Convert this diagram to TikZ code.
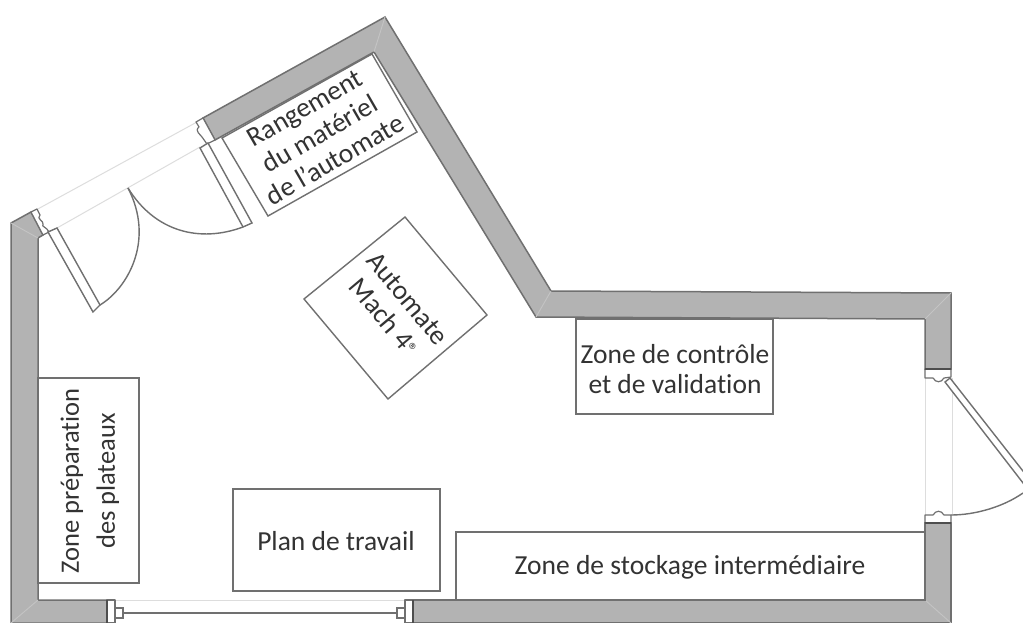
\documentclass[tikz,border=0pt]{standalone}
\usepackage{fontspec}
\setmainfont{Carlito}[Ligatures=NoCommon]
\usepackage{xcolor}
\definecolor{wallfill}{HTML}{B3B3B3}
\definecolor{wallline}{HTML}{707070}
\definecolor{ink}{HTML}{333333}
\definecolor{pale}{HTML}{DDDDDD}
\definecolor{miter}{HTML}{C4C4C4}
\tikzset{
  wall/.style={draw=wallline, fill=wallfill, line width=1.5pt, line join=miter},
  stop/.style={draw=wallline!70!black, line width=2.4pt},
  jamb/.style={draw=wallline, fill=white, line width=1.2pt, line join=round},
  leaf/.style={draw=wallline, fill=white, line width=1.4pt},
  swing/.style={draw=wallline, line width=1.4pt},
  sill/.style={draw=pale, line width=1pt},
  seam/.style={draw=miter, line width=0.9pt},
  zonebox/.style={draw=wallline, fill=white, line width=1.4pt},
  lab/.style={text=ink, font=\fontsize{27.5}{30}\selectfont, align=center, inner sep=0pt},
}
\begin{document}
\begin{tikzpicture}[x=1pt,y=-1pt]
  \useasboundingbox[fill=white] (0,0) rectangle (1023,623);
  % walls
  \draw[wall] (107,623) -- (11,623) -- (11,223) -- (31,212) -- (43,235) -- (38,238)
    -- (38,600) -- (107,600) -- cycle;
  \draw[wall] (203,118) -- (385,17) -- (551,291) -- (951,293) -- (951,369)
    -- (925,369) -- (925,319) -- (536,317) -- (374,52) -- (215,140) -- cycle;
  \draw[wall] (925,523) -- (951,523) -- (951,623) -- (413,623) -- (413,600)
    -- (925,600) -- cycle;
  % corner seams
  \draw[seam] (11,223) -- (38,238);
  \draw[seam] (11,623) -- (38,600);
  \draw[seam] (385,17) -- (374,52);
  \draw[seam] (551,291) -- (536,317);
  \draw[seam] (951,293) -- (925,319);
  \draw[seam] (951,623) -- (925,600);
  % door openings
  \draw[sill] (36,210) -- (197,122);
  \draw[sill] (57,228) -- (200,147);
  \draw[sill] (925,378) -- (925,515);
  \draw[sill] (952,378) -- (952,515);
  \draw[sill] (115,600) -- (405,600);
  % jambs
  \draw[jamb] (31,212) -- (37,209) -- (40,215) .. controls (36,219) and (44,221) .. (43,224)
    .. controls (41,227) and (47,227) .. (49,232) -- (43,235) -- cycle;
  \draw[jamb] (203,118) -- (196,122) -- (199,127) .. controls (194,131) and (201,135) .. (202,137)
    -- (207,144) -- (215,140) -- cycle;
  \draw[jamb] (925,369) -- (951,369) -- (951,377) -- (944,378)
    .. controls (941,383) and (936,383) .. (933,378) -- (925,378) -- cycle;
  \draw[jamb] (925,523) -- (951,523) -- (951,515) -- (944,515)
    .. controls (941,510) and (936,510) .. (933,515) -- (925,515) -- cycle;
  \draw[jamb] (107,600) -- (115,600) -- (115,623) -- (107,623) -- cycle;
  \draw[jamb] (405,600) -- (413,600) -- (413,623) -- (405,623) -- cycle;
  \draw[stop] (925,369) -- (951,369);
  \draw[stop] (925,523) -- (951,523);
  \draw[stop] (107,600) -- (107,623);
  \draw[stop] (413,600) -- (413,623);
  % door leaves
  \draw[leaf] (48,232) -- (57,228) -- (100,305) -- (93,312) -- cycle;
  \draw[leaf] (200,148) -- (208,143) -- (252,223) -- (243,227) -- cycle;
  \draw[leaf] (945,382) -- (950,378) -- (1030,480) -- (1030,492) -- cycle;
  \draw[swing] (100,305) .. controls (128,288) and (155,240) .. (128,188);
  \draw[swing] (243,227) .. controls (200,243) and (155,232) .. (128,188);
  \draw[swing] (951,515) .. controls (975,515) and (1003,507) .. (1023,493);
  % sliding door
  \draw[swing] (115,608) -- (123,608) -- (123,618) -- (115,618);
  \draw[swing] (405,608) -- (397,608) -- (397,618) -- (405,618);
  \draw[swing] (123,613) -- (397,613);
  % zones
  \draw[zonebox] (222,138) -- (372,54) -- (417,132) -- (268,216) -- cycle;
  \node[lab, rotate=30] (rangement) at (320,134) {Rangement\\du matériel\\de l’automate};
  \draw[zonebox] (304,299) -- (405,217) -- (487,315) -- (388,399) -- cycle;
  \node[lab, rotate=-50] (automate) at (396,308) {Automate\\Mach 4{\fontsize{20}{20}\selectfont\raisebox{1pt}{®}}};
  \draw[zonebox] (576,319) rectangle (773,414);
  \node[lab] (controle) at (675,369) {Zone de contrôle\\et de validation};
  \draw[zonebox] (38,378) rectangle (139,583);
  \node[lab, rotate=90, font=\fontsize{26.5}{36}\selectfont] (preparation) at (90,481) {Zone préparation\\des plateaux};
  \draw[zonebox] (233,489) rectangle (440,591);
  \node[lab] (plan) at (336,541) {Plan de travail};
  \draw[zonebox] (456,532) rectangle (925,600);
  \node[lab] (stockage) at (690,567) {Zone de stockage intermédiaire};
\end{tikzpicture}
\end{document}
